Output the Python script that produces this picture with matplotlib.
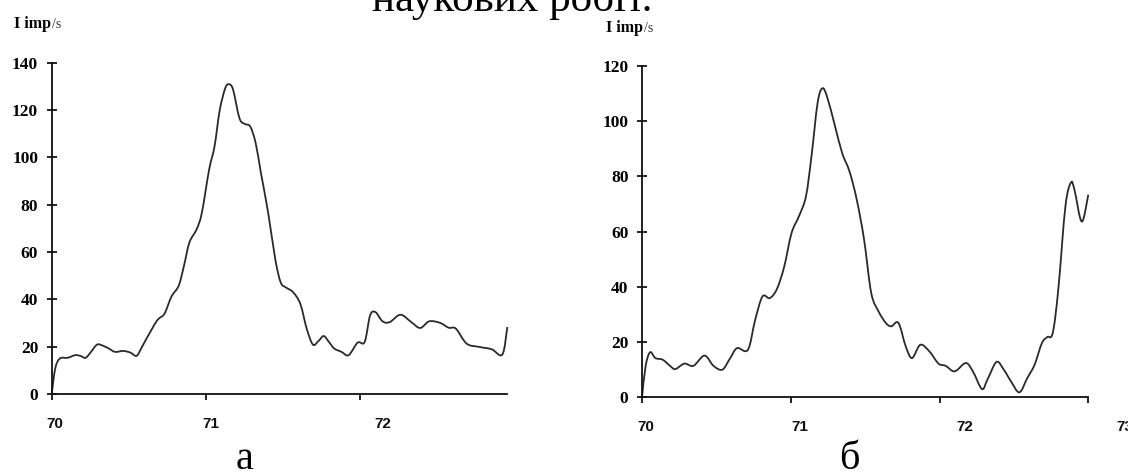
import matplotlib
matplotlib.use("Agg")
import numpy as np
import matplotlib.pyplot as plt
from matplotlib.path import Path
from matplotlib.patches import PathPatch

# panel a: 2theta vs intensity
x_a = [70.00, 70.023, 70.053, 70.104, 70.151, 70.186, 70.220, 70.255, 70.295, 70.336,
       70.371, 70.411, 70.464, 70.510, 70.550, 70.580, 70.615, 70.684, 70.731, 70.777,
       70.824, 70.858, 70.893, 70.940, 70.974, 71.021, 71.056, 71.090, 71.125, 71.148,
       71.176, 71.218, 71.253, 71.288, 71.323, 71.357, 71.404, 71.450, 71.485, 71.520,
       71.566, 71.613, 71.654, 71.694, 71.729, 71.764, 71.798, 71.833, 71.880, 71.926,
       71.984, 72.030, 72.065, 72.100, 72.146, 72.193, 72.262, 72.332, 72.390, 72.448,
       72.517, 72.575, 72.622, 72.691, 72.773, 72.854, 72.923, 72.955]
y_a = [0, 10.8, 15.0, 15.3, 16.4, 16.1, 15.3, 17.8, 20.9, 20.3,
       19.2, 17.8, 18.2, 17.5, 16.1, 19.2, 23.4, 31.1, 33.9, 41.2,
       45.8, 54.2, 64.0, 69.6, 76.6, 94.8, 104.6, 120.0, 129.1, 130.9,
       128.7, 116.5, 114.1, 113.0, 106.0, 93.4, 76.6, 57.0, 47.2, 45.0,
       43.0, 38.0, 27.6, 20.9, 22.3, 24.5, 22.0, 19.2, 17.8, 16.4,
       21.7, 22.0, 33.2, 34.6, 30.7, 30.4, 33.5, 30.4, 27.9, 30.7,
       30.1, 28.0, 27.6, 21.3, 19.9, 18.9, 16.7, 28.3]

# panel b
x_b = [70.00, 70.024, 70.054, 70.090, 70.139, 70.188, 70.224, 70.285, 70.346, 70.420,
       70.480, 70.540, 70.590, 70.639, 70.712, 70.761, 70.810, 70.859, 70.907, 70.956,
       71.005, 71.054, 71.102, 71.139, 71.180, 71.212, 71.244, 71.298, 71.346, 71.395,
       71.444, 71.493, 71.541, 71.590, 71.639, 71.676, 71.724, 71.773, 71.815, 71.871,
       71.932, 71.993, 72.041, 72.102, 72.176, 72.224, 72.285, 72.322, 72.383, 72.432,
       72.480, 72.537, 72.590, 72.639, 72.688, 72.724, 72.761, 72.798, 72.846, 72.883,
       72.907, 72.956, 73.00]
y_b = [0, 11.2, 16.3, 14.2, 13.6, 11.4, 10.2, 12.2, 11.4, 15.1,
       11.4, 10.0, 13.9, 17.8, 17.2, 28.1, 36.5, 35.9, 39.2, 47.3,
       59.4, 65.4, 72.7, 87.1, 106.4, 111.8, 108.8, 98.0, 88.3, 81.7,
       71.4, 57.0, 37.7, 31.1, 26.9, 25.7, 26.9, 18.4, 14.2, 19.0,
       16.6, 12.2, 11.4, 9.4, 12.4, 9.4, 3.0, 6.4, 12.8, 10.0,
       5.8, 1.8, 7.0, 11.8, 19.6, 21.8, 23.3, 38.9, 69.0, 77.7,
       75.1, 63.6, 73.3]

xticks_a = [70, 71, 72]
xticks_b = [70, 71, 72, 73]
yticks_a = [0, 20, 40, 60, 80, 100, 120, 140]
yticks_b = [0, 20, 40, 60, 80, 100, 120]
panel_names = ["а", "б"]
y_label = "I imp"
y_unit = "/s"
page_text = "наукових робіт."

SERIF = "Liberation Serif"
SANS = "Liberation Sans"
W, H = 1128, 476


def smooth_line(ax, xs, ys, **kw):
    # excel-like smoothed line: bezier segments through the read points
    p = np.column_stack([xs, ys]).astype(float)
    pad = np.vstack([p[0], p, p[-1]])
    verts = [p[0]]
    codes = [Path.MOVETO]
    for i in range(1, len(pad) - 2):
        p0, p1, p2, p3 = pad[i - 1], pad[i], pad[i + 1], pad[i + 2]
        verts += [p1 + (p2 - p0) / 6.0, p2 - (p3 - p1) / 6.0, p2]
        codes += [Path.CURVE4] * 3
    ax.add_patch(PathPatch(Path(verts, codes), fill=False,
                           transform=ax.transData, **kw))


def setup_axes(ax, xticks, yticks, xmax, label_shift):
    for side in ["top", "right"]:
        ax.spines[side].set_visible(False)
    for side in ["left", "bottom"]:
        ax.spines[side].set_linewidth(1.3)
        ax.spines[side].set_color("#111111")
    ax.set_xlim(70, xmax)
    ax.set_ylim(0, yticks[-1])
    ax.set_yticks(yticks)
    ax.set_yticklabels([str(v) for v in yticks], family=SERIF,
                       fontweight="bold", fontsize=12.5)
    ax.tick_params(axis="y", direction="inout", length=7.5, width=1.2, pad=6)
    ax.set_xticks(xticks)
    ax.set_xticklabels([])
    ax.tick_params(axis="x", direction="out", length=4, width=1.2)
    # tick labels in the scan drift a bit to the right of their ticks
    for v, s in zip(xticks, label_shift):
        ax.text(v + s, -0.09, str(v), transform=ax.get_xaxis_transform(),
                ha="center", va="center", family=SANS, fontweight="bold",
                fontsize=11, color="#111111", clip_on=False)


fig = plt.figure(figsize=(W / 100, H / 100), dpi=100)

ax1 = fig.add_axes([51.7 / W, 1 - 394 / H, 455.6 / W, 331.3 / H])
smooth_line(ax1, x_a, y_a, edgecolor="#2a2a2a", lw=1.3, clip_on=False)
setup_axes(ax1, xticks_a, yticks_a, 72.955, [0.02, 0.03, 0.15])

ax2 = fig.add_axes([642 / W, 1 - 397.3 / H, 446.3 / W, 331.6 / H])
smooth_line(ax2, x_b, y_b, edgecolor="#2a2a2a", lw=1.3, clip_on=False)
setup_axes(ax2, xticks_b, yticks_b, 73.0, [0.027, 0.06, 0.17, 0.245])

# axis captions "I imp/s"
for x0, x1, base in [(14, 52, 27.7), (606, 644, 31.7)]:
    fig.text(x0 / W, 1 - base / H, y_label, family=SERIF, fontweight="bold",
             fontsize=11.5, va="baseline", ha="left")
    fig.text(x1 / W, 1 - base / H, y_unit, family=SERIF, fontsize=10,
             va="baseline", ha="left", color="#333333")

# panel letters
fig.text(245 / W, 1 - 469 / H, panel_names[0], family=SERIF, fontsize=29,
         ha="center", va="baseline")
fig.text(849 / W, 1 - 469 / H, panel_names[1], family=SERIF, fontsize=29,
         ha="center", va="baseline")

# line of page text cut off at the top of the scan
fig.text(372 / W, 1 - 11 / H, page_text, family=SERIF, fontsize=31,
         ha="left", va="baseline")

fig.savefig("out.png", dpi=100, facecolor="white")
